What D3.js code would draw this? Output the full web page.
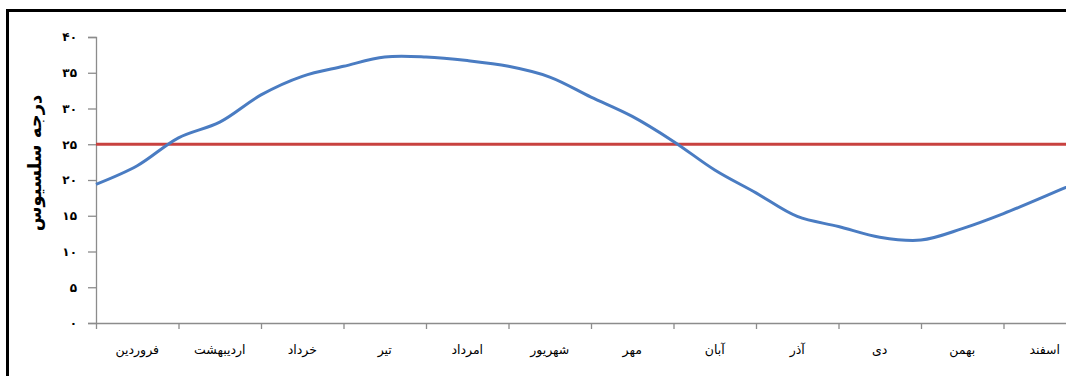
<!DOCTYPE html>
<html lang="fa">
<head>
<meta charset="utf-8">
<script src="https://cdn.jsdelivr.net/npm/d3@7/dist/d3.min.js"></script>
<style>
  html, body { margin: 0; padding: 0; background: #fff; }
  svg { display: block; }
  text { font-family: "DejaVu Sans", "Noto Sans", sans-serif; }
</style>
</head>
<body>
<svg id="chart" width="1066" height="376"></svg>
<script>
// Persian solar months along the x axis
const months = ["فروردین", "اردیبهشت", "خرداد", "تیر", "امرداد", "شهریور",
                "مهر", "آبان", "آذر", "دی", "بهمن", "اسفند"];

// Mean temperature (°C), sampled at the start and middle of every month
const temperature = [19.4, 22.0, 25.9, 28.1, 31.9, 34.5, 35.9, 37.2, 37.2, 36.7,
                     35.9, 34.4, 31.6, 28.9, 25.4, 21.4, 18.2, 14.9, 13.5, 12.0,
                     11.6, 13.2, 15.3, 17.7, 20.2];

// Comfort threshold line
const threshold = 25;

// Y axis tick values and their Persian labels
const yTicks = [0, 5, 10, 15, 20, 25, 30, 35, 40];
const yTickLabels = ["۰", "۵", "۱۰", "۱۵", "۲۰", "۲۵", "۳۰", "۳۵", "۴۰"];

const yTitle = "درجه سلسیوس";

const svg = d3.select("#chart");

const plot = { left: 96, right: 1086, top: 37, bottom: 323 };

const xMonth = d3.scaleLinear().domain([0, months.length]).range([plot.left, plot.right]);
const xBand = d3.scaleBand().domain(months).range([plot.left, plot.right]);
const y = d3.scaleLinear().domain([0, 40]).range([plot.bottom, plot.top]);

// outer frame
svg.append("rect")
  .attr("x", 7.5).attr("y", 10.5)
  .attr("width", 1100).attr("height", 400)
  .attr("fill", "none")
  .attr("stroke", "#000")
  .attr("stroke-width", 3);

// y axis
const yAxis = svg.append("g")
  .attr("transform", `translate(${plot.left},0)`)
  .call(d3.axisLeft(y)
    .tickValues(yTicks)
    .tickSize(8)
    .tickPadding(11)
    .tickFormat((d, i) => yTickLabels[i]));
yAxis.select(".domain").attr("stroke", "#8c8c8c").attr("stroke-width", 1.3);
yAxis.selectAll(".tick line").attr("stroke", "#8c8c8c").attr("stroke-width", 1.3);
yAxis.selectAll(".tick text")
  .attr("fill", "#000")
  .attr("font-size", 12)
  .attr("font-weight", "bold");

// x axis: tick marks on month boundaries
const xTicks = svg.append("g")
  .attr("transform", `translate(0,${plot.bottom})`)
  .call(d3.axisBottom(xMonth)
    .tickValues(d3.range(months.length + 1))
    .tickSize(6)
    .tickSizeOuter(0)
    .tickFormat(""));
xTicks.select(".domain").attr("stroke", "#8c8c8c").attr("stroke-width", 1.3);
xTicks.selectAll(".tick line").attr("stroke", "#8c8c8c").attr("stroke-width", 1.3);

// x axis: month names centred in each month
const xLabels = svg.append("g")
  .attr("transform", `translate(0,${plot.bottom})`)
  .call(d3.axisBottom(xBand).tickSize(0).tickPadding(22));
xLabels.select(".domain").remove();
xLabels.selectAll(".tick text")
  .attr("fill", "#000")
  .attr("font-size", 12.5)
  .attr("direction", "rtl");

// y axis title
svg.append("text")
  .attr("transform", `translate(36,${(plot.top + plot.bottom) / 2 - 17}) rotate(-90)`)
  .attr("text-anchor", "middle")
  .attr("dominant-baseline", "middle")
  .attr("direction", "rtl")
  .attr("font-size", 18)
  .attr("font-weight", "bold")
  .attr("fill", "#000")
  .text(yTitle);

// threshold line
svg.append("line")
  .attr("x1", plot.left).attr("x2", plot.right)
  .attr("y1", y(threshold)).attr("y2", y(threshold))
  .attr("stroke", "#c8413f")
  .attr("stroke-width", 3);

// temperature curve
const line = d3.line()
  .x((d, i) => xMonth(i / 2))
  .y(d => y(d))
  .curve(d3.curveCatmullRom.alpha(0.5));

svg.append("path")
  .datum(temperature)
  .attr("d", line)
  .attr("fill", "none")
  .attr("stroke", "#4a7cc2")
  .attr("stroke-width", 3)
  .attr("stroke-linejoin", "round");
</script>
</body>
</html>
